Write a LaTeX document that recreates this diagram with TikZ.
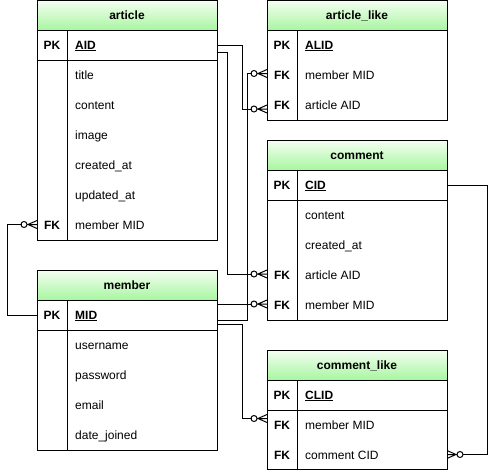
\documentclass[tikz,border=0pt]{standalone}
\usepackage{fontspec}
\setmainfont{Liberation Sans}
\usetikzlibrary{calc}

\definecolor{hdrtop}{RGB}{244,255,242}
\definecolor{hdrbot}{RGB}{168,245,160}

\newcommand\erfont{\fontsize{12pt}{14pt}\selectfont}

% "zero or many" end: crow's foot against the table, open circle behind it
\pgfdeclarearrow{
  name = ZeroMany,
  setup code = {
    \pgfarrowssettipend{0pt}
    \pgfarrowssetlineend{-15.5pt}
    \pgfarrowssetbackend{-16pt}
    \pgfarrowshullpoint{0pt}{4pt}
    \pgfarrowshullpoint{0pt}{-4pt}
    \pgfarrowshullpoint{-16pt}{0pt}
  },
  drawing code = {
    \pgfsetdash{}{0pt}
    \pgfpathmoveto{\pgfpoint{0pt}{4pt}}
    \pgfpathlineto{\pgfpoint{-9pt}{0pt}}
    \pgfpathlineto{\pgfpoint{0pt}{-4pt}}
    \pgfpathmoveto{\pgfpoint{0pt}{0pt}}
    \pgfpathlineto{\pgfpoint{-10pt}{0pt}}
    \pgfusepathqstroke
    \pgfpathcircle{\pgfpoint{-13pt}{0pt}}{3pt}
    \pgfusepathqstroke
  }
}

\tikzset{
  tbl/.style={draw, line width=1pt, fill=white, minimum width=180pt,
    inner sep=0pt, outer sep=0pt, anchor=north west},
  hdr/.style={draw, line width=1pt, top color=hdrtop, bottom color=hdrbot,
    minimum width=180pt, minimum height=30pt, inner sep=0pt, outer sep=0pt,
    anchor=north west, font=\erfont\bfseries, text height=9pt, text depth=1pt},
  keyt/.style={font=\erfont\bfseries, inner sep=0pt, text height=9pt, text depth=1pt},
  fld/.style={font=\erfont, anchor=west, inner sep=0pt, text height=9pt, text depth=1pt},
  pkf/.style={fld, font=\erfont\bfseries},
  rule/.style={line width=1pt},
  conn/.style={line width=1pt, -ZeroMany},
}

\begin{document}
\begin{tikzpicture}[x=1pt, y=-1pt]
\useasboundingbox (0,0) rectangle (496,471);

% ---------- article ----------
\node[tbl, minimum height=240pt] (article) at (37,0.5) {};
\node[hdr] (article-h) at (37,0.5) {article};
\draw[rule] (37,60) -- (217,60);
\draw[rule] (67,30) -- (67,240.5);
\node[keyt] (a-pk) at (52,45) {PK};
\node[pkf] (a-aid) at (75,45) {\underline{AID}};
\node[fld] (a-title) at (75,75) {title};
\node[fld] (a-content) at (75,105) {content};
\node[fld] (a-image) at (75,135) {image};
\node[fld] (a-created) at (75,165) {created\_at};
\node[fld] (a-updated) at (75,195) {updated\_at};
\node[keyt] (a-fk) at (52,225) {FK};
\node[fld] (a-mid) at (75,225) {member MID};

% ---------- article_like ----------
\node[tbl, minimum height=119.5pt] (alike) at (267,0.5) {};
\node[hdr] (alike-h) at (267,0.5) {article\_like};
\draw[rule] (297,30) -- (297,120);
\node[keyt] (al-pk) at (282,45) {PK};
\node[pkf] (al-alid) at (305,45) {\underline{ALID}};
\node[keyt] (al-fk1) at (282,75) {FK};
\node[fld] (al-mid) at (305,75) {member MID};
\node[keyt] (al-fk2) at (282,105) {FK};
\node[fld] (al-aid) at (305,105) {article AID};

% ---------- comment ----------
\node[tbl, minimum height=180pt] (comment) at (267,140) {};
\node[hdr] (comment-h) at (267,140) {comment};
\draw[rule] (267,200) -- (447,200);
\draw[rule] (297,170) -- (297,320);
\node[keyt] (c-pk) at (282,185) {PK};
\node[pkf] (c-cid) at (305,185) {\underline{CID}};
\node[fld] (c-content) at (305,215) {content};
\node[fld] (c-created) at (305,245) {created\_at};
\node[keyt] (c-fk1) at (282,275) {FK};
\node[fld] (c-aid) at (305,275) {article AID};
\node[keyt] (c-fk2) at (282,305) {FK};
\node[fld] (c-mid) at (305,305) {member MID};

% ---------- member ----------
\node[tbl, minimum height=180pt] (member) at (37,270) {};
\node[hdr] (member-h) at (37,270) {member};
\draw[rule] (37,330) -- (217,330);
\draw[rule] (67,300) -- (67,450);
\node[keyt] (m-pk) at (52,315) {PK};
\node[pkf] (m-mid) at (75,315) {\underline{MID}};
\node[fld] (m-user) at (75,345) {username};
\node[fld] (m-pass) at (75,375) {password};
\node[fld] (m-email) at (75,405) {email};
\node[fld] (m-joined) at (75,435) {date\_joined};

% ---------- comment_like ----------
\node[tbl, minimum height=119.5pt] (clike) at (267,350) {};
\node[hdr] (clike-h) at (267,350) {comment\_like};
\draw[rule] (267,410) -- (447,410);
\draw[rule] (297,380) -- (297,469.5);
\node[keyt] (cl-pk) at (282,395) {PK};
\node[pkf] (cl-clid) at (305,395) {\underline{CLID}};
\node[keyt] (cl-fk1) at (282,425) {FK};
\node[fld] (cl-mid) at (305,425) {member MID};
\node[keyt] (cl-fk2) at (282,455) {FK};
\node[fld] (cl-cid) at (305,455) {comment CID};

% ---------- relationships ----------
% member.MID -> article.member MID
\draw[conn] (member.west |- m-mid) -- ++(-30,0)
  |- ($(article.west |- a-mid)+(0,-0.5)$);
% article.AID -> article_like.article AID
\draw[conn] (article.east |- a-aid) -- ++(25,0)
  |- ($(alike.west |- al-aid)+(0,4)$);
% article.AID -> comment.article AID
\draw[conn] ($(article.east |- a-aid)+(0,7)$) -- ++(10.5,0)
  |- ($(comment.west |- c-aid)+(0,-1)$);
% member.MID -> comment.member MID
\draw[conn] ($(member.east |- c-mid)+(0,-1)$)
  -- ($(comment.west |- c-mid)+(0,-1)$);
% member.MID -> article_like.member MID
\draw[conn] ($(member.east |- m-mid)+(0,5)$) -- ++(30,0)
  |- ($(alike.west |- al-mid)+(0,-1.5)$);
% member.MID -> comment_like.member MID
\draw[conn] ($(member.east |- m-mid)+(0,9)$) -- ++(25,0)
  |- ($(clike.west |- cl-mid)+(0,-6.5)$);
% comment.CID -> comment_like.comment CID
\draw[conn] (comment.east |- c-cid) -- ++(40,0)
  |- ($(clike.east |- cl-cid)+(0,-0.5)$);
\end{tikzpicture}
\end{document}
